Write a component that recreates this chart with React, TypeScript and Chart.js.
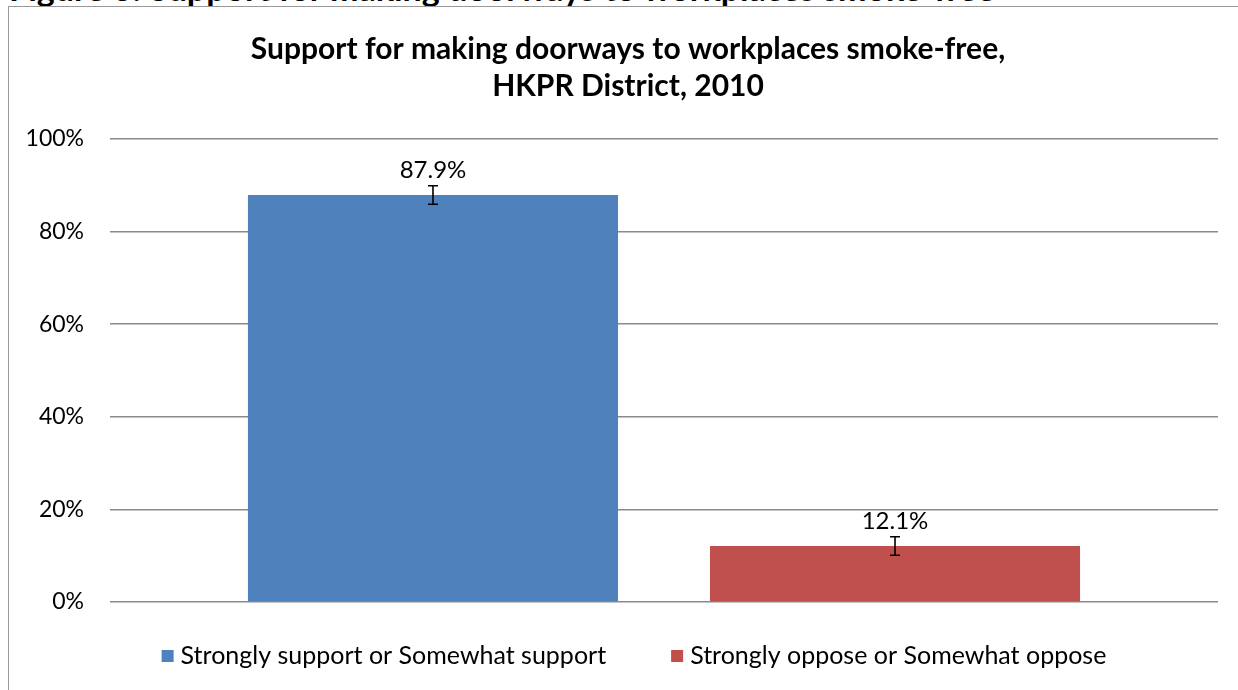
import React, { useEffect, useRef } from "react";
import { Chart, registerables } from "chart.js";

Chart.register(...registerables);

// ---- Data ----
const categories = [""];
const seriesLabels = ["Strongly support or Somewhat support", "Strongly oppose or Somewhat oppose"];
const seriesValues = [87.9, 12.1];
const seriesErrors = [2.0, 2.0];
const seriesColors = ["#4F81BD", "#C0504D"];
const yTickStep = 20;
const yMin = 0;
const yMax = 100;
const titleLines = ["Support for making doorways to workplaces smoke-free,", "HKPR District, 2010"];
const captionText = "Figure 8: Support for making doorways to workplaces smoke-free";

const FONT = "Lato, 'Open Sans', sans-serif";

const titlePlugin = {
  id: "centeredTitle",
  afterDraw(chart: any) {
    const ctx = chart.ctx;
    ctx.save();
    ctx.fillStyle = "#000";
    ctx.font = `bold 30px ${FONT}`;
    ctx.textAlign = "center";
    ctx.textBaseline = "middle";
    titleLines.forEach((line, i) => {
      ctx.fillText(line, chart.width / 2, 42.5 + i * 37);
    });
    ctx.restore();
  },
};

const barExtrasPlugin = {
  id: "barExtras",
  afterDatasetsDraw(chart: any) {
    const ctx = chart.ctx;
    const y = chart.scales.y;
    chart.data.datasets.forEach((ds: any, i: number) => {
      const meta = chart.getDatasetMeta(i);
      meta.data.forEach((bar: any, j: number) => {
        const v = ds.data[j] as number;
        const e = seriesErrors[i];
        const yTop = y.getPixelForValue(v + e);
        const yBot = y.getPixelForValue(v - e);
        ctx.save();
        ctx.strokeStyle = "#000";
        ctx.lineWidth = 1.6;
        ctx.beginPath();
        ctx.moveTo(bar.x, yTop);
        ctx.lineTo(bar.x, yBot);
        ctx.moveTo(bar.x - 5, yTop);
        ctx.lineTo(bar.x + 5, yTop);
        ctx.moveTo(bar.x - 5, yBot);
        ctx.lineTo(bar.x + 5, yBot);
        ctx.stroke();
        ctx.fillStyle = "#000";
        ctx.font = `24px ${FONT}`;
        ctx.textAlign = "center";
        ctx.textBaseline = "alphabetic";
        ctx.fillText(v.toFixed(1) + "%", bar.x, bar.y - 17);
        ctx.restore();
      });
    });
  },
};

const legendPlugin = {
  id: "customLegend",
  afterDraw(chart: any) {
    const ctx = chart.ctx;
    ctx.save();
    ctx.font = `25px ${FONT}`;
    const box = 12;
    const boxGap = 7;
    const itemGap = 65;
    const widths = chart.data.datasets.map((ds: any) => box + boxGap + ctx.measureText(ds.label).width);
    const total = widths.reduce((a: number, b: number) => a + b, 0) + itemGap * (widths.length - 1);
    let x = chart.width / 2 + 6 - total / 2;
    const cy = 649;
    chart.data.datasets.forEach((ds: any, i: number) => {
      ctx.fillStyle = ds.backgroundColor;
      ctx.fillRect(x, cy - box / 2, box, box);
      ctx.fillStyle = "#000";
      ctx.textAlign = "left";
      ctx.textBaseline = "middle";
      ctx.fillText(ds.label, x + box + boxGap, cy);
      x += widths[i] + itemGap;
    });
    ctx.restore();
  },
};

function ChartView() {
  const ref = useRef<HTMLCanvasElement | null>(null);
  useEffect(() => {
    if (!ref.current) return;
    const chart = new Chart(ref.current, {
      type: "bar",
      data: {
        labels: categories,
        datasets: seriesLabels.map((label, i) => ({
          label,
          data: [seriesValues[i]],
          backgroundColor: seriesColors[i],
          borderWidth: 0,
          categoryPercentage: 0.834,
          barPercentage: 0.801,
        })),
      },
      options: {
        animation: false,
        responsive: false,
        maintainAspectRatio: false,
        devicePixelRatio: 1,
        layout: { padding: { left: 0, right: 29, top: 132, bottom: 88 } },
        plugins: {
          legend: { display: false },
          tooltip: { enabled: false },
          title: { display: false },
        },
        scales: {
          x: { display: false },
          y: {
            min: yMin,
            max: yMax,
            ticks: {
              stepSize: yTickStep,
              callback: (v: any) => v + "%",
              color: "#000",
              font: { family: FONT, size: 23 },
              padding: 26,
            },
            grid: { color: "#8a8a8a", lineWidth: 1.5, drawTicks: false },
            border: { display: false },
            afterFit: (s: any) => {
              s.width = 101;
            },
          },
        },
      },
      plugins: [barExtrasPlugin, legendPlugin, titlePlugin],
    });
    return () => chart.destroy();
  }, []);
  return <canvas ref={ref} width={1238} height={683} style={{ position: "absolute", left: 9, top: 7, width: 1238, height: 683 }} />;
}

export default function App() {
  return (
    <div style={{ position: "fixed", left: 0, top: 0, width: 1238, height: 690, overflow: "hidden", background: "#fff" }}>
      <svg width={1238} height={6} style={{ position: "absolute", left: 0, top: 0, overflow: "hidden" }}>
        <text x={9} y={1} fontFamily="Lato, 'Open Sans', sans-serif" fontWeight="bold" fontSize={34} fill="#000">
          {captionText}
        </text>
      </svg>
      <div
        style={{
          position: "absolute",
          left: 8,
          top: 6,
          width: 1300,
          height: 800,
          borderLeft: "1.5px solid #999",
          borderTop: "1.5px solid #999",
        }}
      />
      <ChartView />
    </div>
  );
}
